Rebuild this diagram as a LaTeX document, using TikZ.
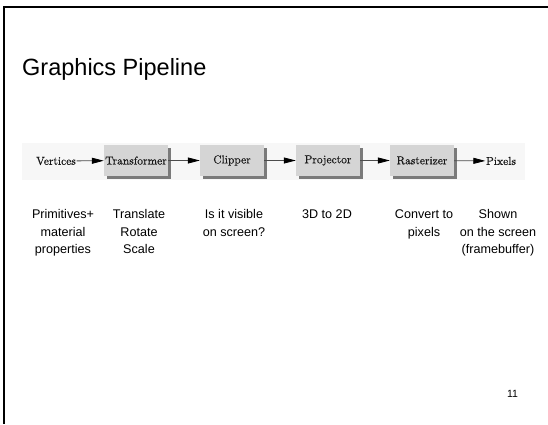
\documentclass[tikz,border=0pt]{standalone}
\usepackage{fontspec}
\setsansfont{Liberation Sans}
\newfontfamily\stagefont{lmroman10-regular.otf}[FakeBold=0.5]
\usetikzlibrary{arrows.meta,shadows}

\definecolor{boxgray}{HTML}{D5D5D5}
\definecolor{shadegray}{HTML}{7A7A7A}
\definecolor{panelgray}{HTML}{F7F7F7}

\begin{document}
\begin{tikzpicture}[x=1pt,y=-1pt,
  stage/.style={fill=boxgray, minimum width=64pt, minimum height=31pt, inner sep=0pt,
    font=\stagefont\fontsize{11.5}{13}\selectfont, text=black!90,
    drop shadow={shadow xshift=2.5pt, shadow yshift=-2.5pt, fill=shadegray, opacity=1}},
  io/.style={inner sep=0.5pt, font=\stagefont\fontsize{11.5}{13}\selectfont, text=black!90},
  flow/.style={draw=black!70, line width=0.8pt, -{Triangle[length=12pt,width=6pt,color=black]}},
  desc/.style={font=\sffamily\fontsize{12.6}{17.5}\selectfont, align=center, anchor=north, inner sep=0pt},
]
\useasboundingbox (0,0) rectangle (548,424);

% slide frame (top and left edges)
\draw[line width=2.2pt, line join=miter] (548,7.3) -- (4,7.3) -- (4,424);

% title
\node[anchor=base west, inner sep=0pt, font=\sffamily\fontsize{23.5}{28}\selectfont] (title) at (22,75) {Graphics Pipeline};

% pipeline panel
\fill[panelgray] (22,143) rectangle (525,180);

\node[io] (vert) at (56,161) {Vertices};
\node[stage] (trans) at (136,160.5) {Transformer};
\node[stage] (clip) at (232,160.5) {Clipper};
\node[stage] (proj) at (328,160.5) {Projector};
\node[stage] (rast) at (422,160.5) {Rasterizer};
\node[io] (pix) at (501,161) {Pixels};

\draw[flow] (vert) -- (trans);
\draw[flow] (trans) -- (clip);
\draw[flow] (clip) -- (proj);
\draw[flow] (proj) -- (rast);
\draw[flow] (rast) -- (pix);

% stage descriptions
\node[desc] (d1) at (63,209.5) {Primitives+\\material\\properties};
\node[desc] (d2) at (139,209.5) {Translate\\Rotate\\Scale};
\node[desc] (d3) at (234,209.5) {Is it visible\\on screen?};
\node[desc] (d4) at (327,209.5) {3D to 2D};
\node[desc] (d5) at (424,209.5) {Convert to\\pixels};
\node[desc] (d6) at (498,209.5) {Shown\\on the screen\\(framebuffer)};

% page number
\node[inner sep=0pt, font=\sffamily\fontsize{10.5}{12}\selectfont] (page) at (512.5,394) {11};
\end{tikzpicture}
\end{document}
